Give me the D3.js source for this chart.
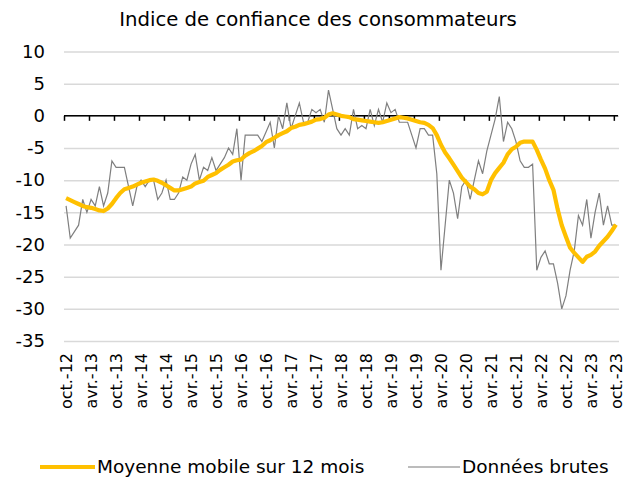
<!DOCTYPE html>
<html>
<head>
<meta charset="utf-8">
<script src="https://cdn.jsdelivr.net/npm/d3@7"></script>
<style>
  body { margin: 0; background: #fff; }
  svg text { font-family: "DejaVu Sans", sans-serif; fill: #000; }
</style>
</head>
<body>
<svg id="chart"></svg>
<script>
// Chart size
const width = 637, height = 484;

// Monthly data, oct. 2012 -> oct. 2023 (133 months)
const rawData = [
  -14, -19, -18, -17, -13, -15, -13, -14, -11, -14, -12, -7,
  -8, -8, -8, -11, -14, -11, -10, -11, -10, -10, -13, -12,
  -10, -13, -13, -12, -9.5, -10, -7.5, -6, -10, -8, -8.5, -6.5,
  -8.5, -7.5, -6.5, -5, -6, -2, -10, -3, -3, -3, -3, -4,
  -2.5, -1, -5, 0, -2, 2, -2, 0, 2, -1, -1, 1,
  0.5, 1, -1, 4, 1, -2, -3, -2, -3, 1, -2, -1.5,
  -2, 1, -1.5, 1, -1, 2, 0.5, 1, -1, -1, -1, -3,
  -5, -2, -2, -3, -3, -9, -24, -17, -10, -12, -16, -11,
  -10, -13, -10, -7, -9, -5.5, -3, -0.5, 3, -4, -1, -2,
  -4, -7, -8, -8, -7.5, -24, -22, -21, -23, -23, -26, -30,
  -28, -24, -21, -15.5, -17, -13, -19, -15, -12, -17, -14, -17,
  -17
];

const movingAvg = [
  -12.8, -13.1, -13.4, -13.7, -14.0, -14.2, -14.3, -14.5, -14.7, -14.8, -14.4, -13.7,
  -12.8, -12.0, -11.4, -11.2, -11.0, -10.7, -10.4, -10.2, -10.0, -9.9, -10.1, -10.4,
  -10.8, -11.2, -11.6, -11.6, -11.4, -11.2, -11.0, -10.5, -10.3, -10.1, -9.5, -9.2,
  -8.9, -8.4, -8.0, -7.6, -7.1, -6.9, -6.8, -6.2, -5.8, -5.5, -5.1, -4.7,
  -4.1, -3.8, -3.4, -3.0, -2.7, -2.4, -1.9, -1.7, -1.4, -1.3, -1.1, -0.9,
  -0.6, -0.5, -0.3, 0.2, 0.4, 0.2, 0.0, -0.1, -0.2, -0.5, -0.6, -0.7,
  -0.8, -0.9, -1.0, -1.1, -1.0, -0.8, -0.6, -0.4, -0.2, -0.3, -0.4, -0.6,
  -0.8, -1.0, -1.1, -1.4, -1.9, -3.0, -4.5, -5.7, -6.6, -7.6, -8.6, -9.6,
  -10.3, -11.0, -11.4, -12.0, -12.2, -11.8, -10.0, -8.9, -8.1, -7.3, -6.0, -5.2,
  -4.8, -4.2, -4.0, -4.0, -4.0, -5.3, -6.8, -8.2, -10.0, -11.5, -14.5, -17.0,
  -18.8, -20.5, -21.3, -22.0, -22.7, -21.9, -21.6, -21.1, -20.2, -19.5, -18.8, -17.9,
  -16.9
];

// one label every 6 months
const xLabels = [
  "oct.-12", "avr.-13", "oct.-13", "avr.-14", "oct.-14", "avr.-15", "oct.-15",
  "avr.-16", "oct.-16", "avr.-17", "oct.-17", "avr.-18", "oct.-18", "avr.-19",
  "oct.-19", "avr.-20", "oct.-20", "avr.-21", "oct.-21", "avr.-22", "oct.-22",
  "avr.-23", "oct.-23"
];
const yTicks = [10, 5, 0, -5, -10, -15, -20, -25, -30, -35];

const seriesNames = ["Moyenne mobile sur 12 mois", "Données brutes"];
const colors = { avg: "#FFC000", raw: "#7F7F7F" };

const svg = d3.select("#chart")
    .attr("width", width)
    .attr("height", height);

const plot = { left: 64, right: 618, top: 51.5, bottom: 341 };
const months = d3.range(rawData.length);

const x = d3.scaleBand()
    .domain(months)
    .range([plot.left, plot.right]);
const xEdge = d3.scaleLinear()
    .domain([0, months.length])
    .range([plot.left, plot.right]);
const y = d3.scaleLinear()
    .domain([-35, 10])
    .range([plot.bottom, plot.top]);

// Title
svg.append("text")
    .attr("x", 318)
    .attr("y", 26)
    .attr("text-anchor", "middle")
    .style("font-size", "19.7px")
    .text("Indice de confiance des consommateurs");

// Gridlines
svg.append("g")
    .attr("transform", `translate(${plot.left},0)`)
    .call(d3.axisLeft(y).tickValues(yTicks).tickSize(-(plot.right - plot.left + 1)).tickFormat(""))
    .call(g => g.select(".domain").remove())
    .call(g => g.selectAll("line").attr("stroke", "#D9D9D9").attr("stroke-width", 1.5));

// Y labels (plain hyphen as minus sign)
svg.append("g")
    .attr("transform", `translate(${plot.left},0)`)
    .call(d3.axisLeft(y).tickValues(yTicks).tickSize(0).tickPadding(19).tickFormat(d => String(d)))
    .call(g => g.select(".domain").remove())
    .call(g => g.selectAll("text").style("font-size", "18px"));

// Zero axis with tick marks between categories
svg.append("g")
    .attr("transform", `translate(0,${y(0)})`)
    .call(d3.axisBottom(xEdge).tickValues(d3.range(0, months.length, 6)).tickSize(5).tickFormat(""))
    .call(g => g.select(".domain").attr("d", `M${plot.left},0H${plot.right}`).attr("stroke", "#000").attr("stroke-width", 1.5))
    .call(g => g.selectAll("line").attr("stroke", "#000").attr("stroke-width", 1.5));

// Rotated month labels
svg.append("g")
    .attr("transform", `translate(0,${plot.bottom + 12})`)
    .call(d3.axisBottom(x)
        .tickValues(d3.range(0, months.length, 6))
        .tickFormat((d, i) => xLabels[i])
        .tickSize(0))
    .call(g => g.select(".domain").remove())
    .call(g => g.selectAll("text")
        .style("font-size", "16px")
        .attr("text-anchor", "end")
        .attr("transform", "rotate(-90)")
        .attr("x", 0)
        .attr("y", 0)
        .attr("dx", 0)
        .attr("dy", "0.35em"));

// Lines
const line = d3.line()
    .x((d, i) => x(i) + x.bandwidth() / 2)
    .y(d => y(d));

svg.append("path")
    .datum(rawData)
    .attr("fill", "none")
    .attr("stroke", colors.raw)
    .attr("stroke-width", 1.2)
    .attr("d", line);

svg.append("path")
    .datum(movingAvg)
    .attr("fill", "none")
    .attr("stroke", colors.avg)
    .attr("stroke-width", 4.2)
    .attr("stroke-linejoin", "round")
    .attr("d", line);

// Legend
const legend = [
  { name: seriesNames[0], color: colors.avg, w: 4, x0: 40, x1: 95 },
  { name: seriesNames[1], color: "#A6A6A6", w: 1.5, x0: 408, x1: 460 }
];
const lg = svg.append("g").selectAll("g")
    .data(legend)
    .enter().append("g");
lg.append("line")
    .attr("x1", d => d.x0).attr("x2", d => d.x1)
    .attr("y1", 467).attr("y2", 467)
    .attr("stroke", d => d.color)
    .attr("stroke-width", d => d.w);
lg.append("text")
    .attr("x", d => d.x1 + 2)
    .attr("y", 467)
    .attr("dy", "0.35em")
    .style("font-size", "18.5px")
    .text(d => d.name);
</script>
</body>
</html>
